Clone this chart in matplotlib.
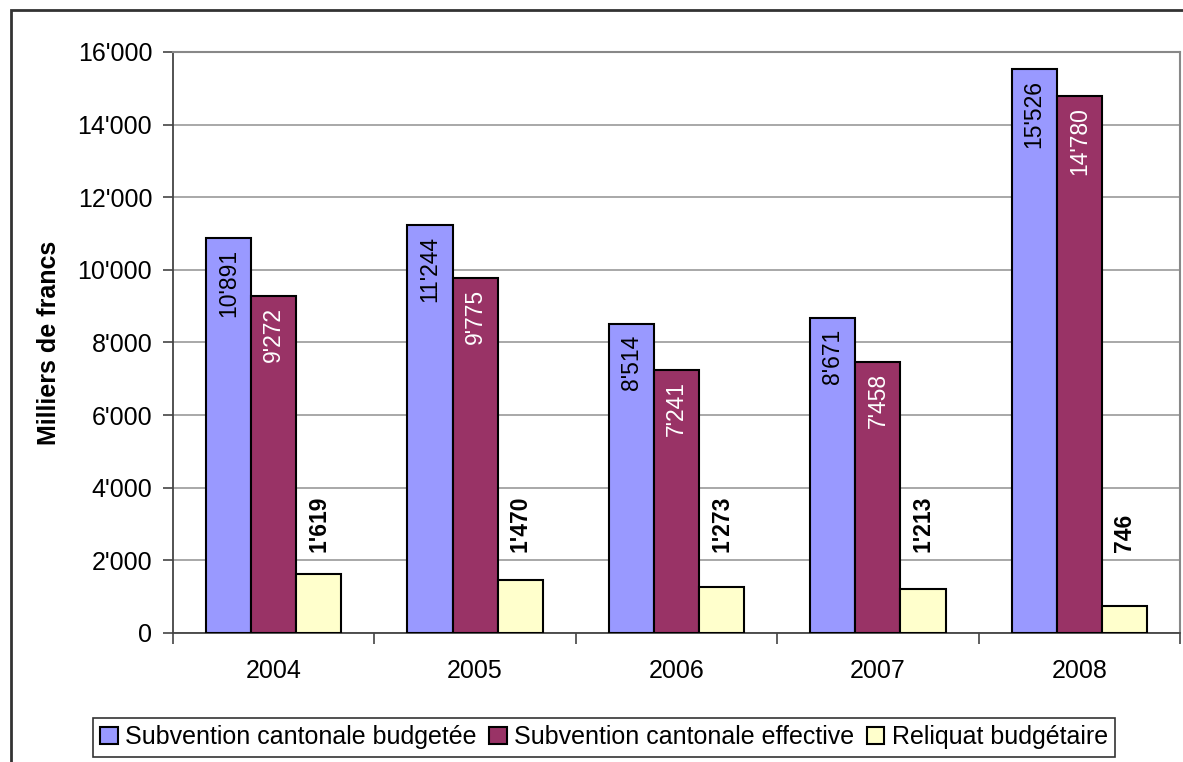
import numpy as np
import matplotlib.pyplot as plt
from matplotlib.patches import Rectangle

plt.rcParams['font.family'] = ['Liberation Sans', 'DejaVu Sans']

# ============== data (milliers de francs) ==============
years = ['2004', '2005', '2006', '2007', '2008']
budgetee = [10891, 11244, 8514, 8671, 15526]
effective = [9272, 9775, 7241, 7458, 14780]
reliquat = [1619, 1470, 1273, 1213, 746]
yticks = [0, 2000, 4000, 6000, 8000, 10000, 12000, 14000, 16000]
# =======================================================

blue = '#9999FF'
maroon = '#993366'
yellow = '#FFFFCC'
fs = 18       # axis text and legend
fs_val = 16.5  # value labels


def swiss(v):
    return f"{v:,}".replace(",", "'")


fig = plt.figure(figsize=(11.83, 7.62), dpi=100)
ax = fig.add_axes([173 / 1183, 1 - 633 / 762, (1180 - 173) / 1183, (633 - 52) / 762])

x = np.arange(len(years))
w = 0.224
b1 = ax.bar(x - w, budgetee, w, color=blue, edgecolor='black', linewidth=1.5, zorder=3,
            label='Subvention cantonale budgetée')
b2 = ax.bar(x, effective, w, color=maroon, edgecolor='black', linewidth=1.5, zorder=3,
            label='Subvention cantonale effective')
b3 = ax.bar(x + w, reliquat, w, color=yellow, edgecolor='black', linewidth=1.5, zorder=3,
            label='Reliquat budgétaire')

# value labels inside the tall bars, above the small ones
for xi, v in zip(x - w, budgetee):
    ax.annotate(swiss(v), (xi, v), xytext=(0, -8), textcoords='offset points',
                rotation=90, ha='center', va='top', fontsize=fs_val, color='black', zorder=4)
for xi, v in zip(x, effective):
    ax.annotate(swiss(v), (xi, v), xytext=(0, -8), textcoords='offset points',
                rotation=90, ha='center', va='top', fontsize=fs_val, color='white', zorder=4)
for xi, v in zip(x + w, reliquat):
    ax.text(xi, 2230, swiss(v), rotation=90, ha='center', va='bottom',
            fontsize=fs_val, fontweight='bold', color='black', zorder=4)

ax.set_xlim(-0.5, len(years) - 0.5)
ax.set_ylim(0, 16000)
ax.set_yticks(yticks)
ax.set_yticklabels([swiss(v) for v in yticks], fontsize=fs)
ax.yaxis.grid(True, color='#999999', linewidth=1.2, zorder=0)

# category labels between boundary ticks
ax.set_xticks(np.arange(-0.5, len(years)), minor=False)
ax.set_xticklabels([])
ax.set_xticks(x, minor=True)
ax.set_xticklabels(years, minor=True, fontsize=fs)
ax.tick_params(axis='x', which='minor', length=0, pad=19)
ax.tick_params(axis='x', which='major', length=8, width=1.2, color='#444444')
ax.tick_params(axis='y', length=7, width=1.2, color='#444444', pad=8)

for s in ['top', 'right']:
    ax.spines[s].set_color('#888888')
    ax.spines[s].set_linewidth(1.5)
for s in ['left', 'bottom']:
    ax.spines[s].set_color('#444444')
    ax.spines[s].set_linewidth(1.3)

ax.set_ylabel('Milliers de francs', fontsize=fs, fontweight='bold', labelpad=12)

leg = fig.legend(handles=[b1, b2, b3], loc='center', ncol=3,
                 bbox_to_anchor=(604 / 1183, 1 - 737 / 762), fontsize=fs,
                 frameon=True, fancybox=False, edgecolor='black',
                 handlelength=0.7, handleheight=0.7, handletextpad=0.3,
                 columnspacing=0.5, borderpad=0.3)
leg.get_frame().set_linewidth(1.2)

# outer chart frame
fig.patches.append(Rectangle((11 / 1183, -0.1), 1.2, 1.1 - 10 / 762,
                             transform=fig.transFigure, fill=False,
                             edgecolor='#333333', linewidth=2))

fig.savefig('out.png', dpi=100)
